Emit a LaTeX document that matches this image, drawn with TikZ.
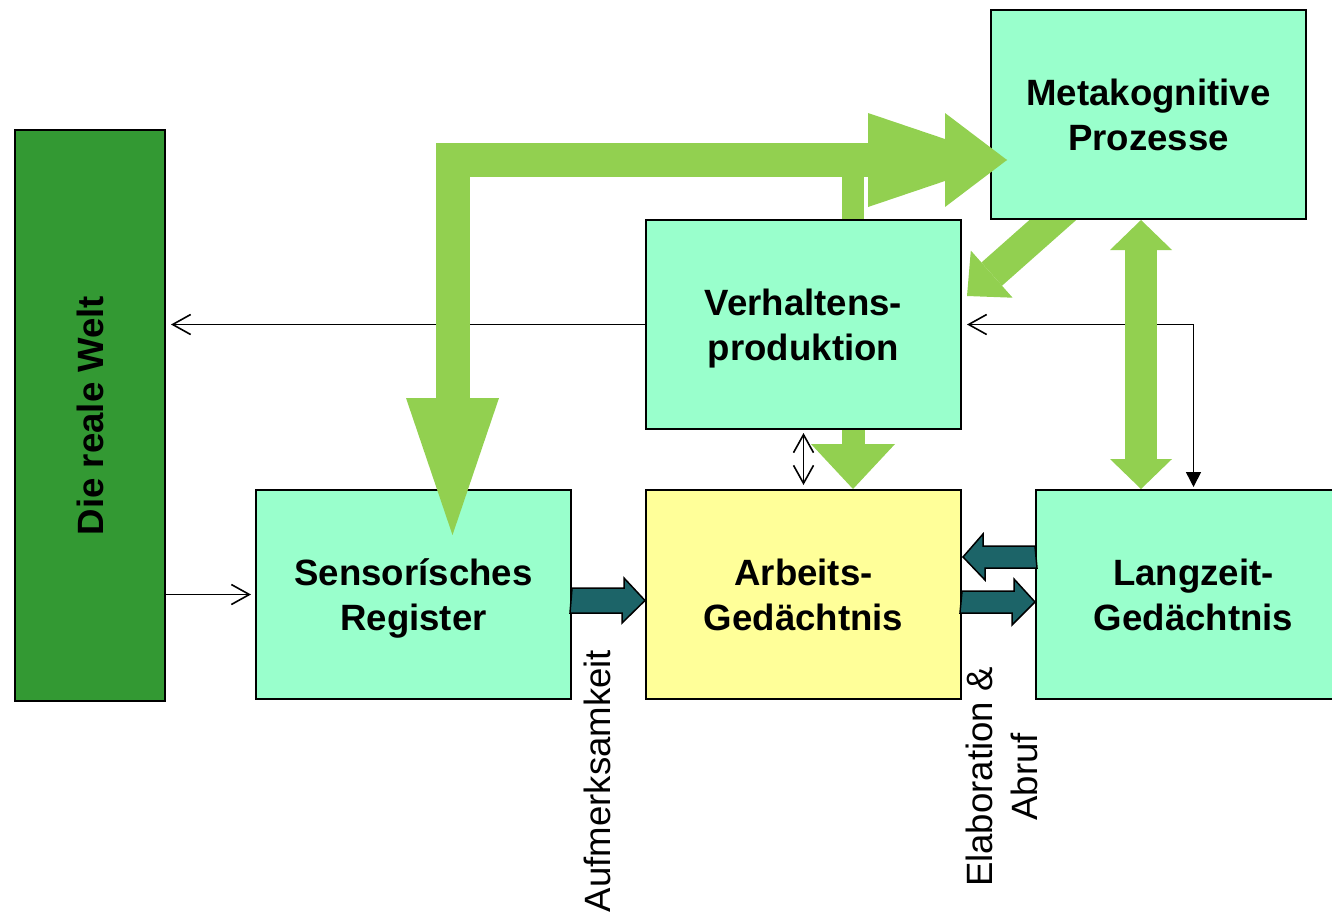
\documentclass[tikz,border=0pt]{standalone}
\usepackage{fontspec}
\setmainfont{Liberation Sans}
\usetikzlibrary{arrows.meta,calc,backgrounds}

\definecolor{mint}{HTML}{99FFCC}
\definecolor{paleyellow}{HTML}{FFFF99}
\definecolor{worldgreen}{HTML}{339933}
\definecolor{limegreen}{HTML}{92D050}
\definecolor{tealdark}{HTML}{1C6468}

\begin{document}
\begin{tikzpicture}[
    x=0.5pt, y=-0.5pt,
    every node/.style={font=\fontsize{18.3}{22.5}\selectfont},
    box/.style={draw=black, line width=1pt, align=center, inner sep=0pt, text depth=0pt, minimum width=157.5pt, minimum height=104.5pt, font=\fontsize{18.3}{22.5}\selectfont\bfseries},
    memory/.style={box, fill=mint},
    work/.style={box, fill=paleyellow},
    world/.style={box, fill=worldgreen, minimum width=75pt, minimum height=285.5pt},
    bigflow/.style={draw=limegreen, line width=17pt},
    thinflow/.style={draw=black, line width=0.8pt},
    barb/.tip={Straight Barb[length=9pt,width=10pt]},
    tealblock/.style={draw=black, fill=tealdark, line width=0.75pt, line join=miter},
    side label/.style={rotate=90, align=center}
  ]
    \useasboundingbox (0,0) rectangle (1332,916);

    \node[world] (welt) at (90,415.5) {\rotatebox{90}{Die reale Welt}};
    \node[memory] (meta) at (1148.5,114.5) {Metakognitive\\Prozesse};
    \node[memory] (verh) at (803.5,324.5) {Verhaltens-\\produktion};
    \node[memory] (sens) at (413.5,594.5) {Sensorísches\\Register};
    \node[work] (arb) at (803.5,594.5) {Arbeits-\\Gedächtnis};
    \node[memory] (lang) at (1193.5,594.5) {Langzeit-\\Gedächtnis};

    \node[side label] (attn) at (597,781) {Aufmerksamkeit};
    \node[side label] (elab) at (1002,777) {Elaboration \&\\Abruf};

    \coordinate (sensin) at (452.5,535);
    \coordinate (metain) at (1007,160);
    \coordinate (junction) at (853,160);

    % thin connectors
    \draw[thinflow, -barb, shorten >=2.5pt] (verh.west) -- (welt.east |- verh.west);
    \draw[thinflow, -barb, shorten >=2pt] (welt.east |- sens.west) -- (sens.west);
    \draw[thinflow, barb-barb, shorten <=1.5pt, shorten >=2pt] (verh.south) -- (arb.north);
    \draw[thinflow, {Triangle[length=7.5pt,width=7.5pt]}-barb, shorten <=1pt, shorten >=2.5pt] (lang.north) |- (verh.east);

    % green block arrows
    \begin{scope}[on background layer]
      \draw[bigflow, line width=15.5pt, -{Triangle[length=16.5pt,width=31.5pt,line width=0pt]}] ($(meta.south west)+(82,-17)$) -- ($(verh.north east)+(5,77)$);
    \end{scope}
    \draw[bigflow, line width=11pt] (junction |- verh.north) -- (junction);
    \draw[bigflow, {Triangle[length=68.5pt,width=46.5pt,line width=0pt]}-{Triangle[length=69.5pt,width=47pt,line width=0pt]}] (sensin) |- (metain);
    \draw[bigflow, -{Triangle[length=31pt,width=47pt,line width=0pt]}] ($(metain)+(-80,0)$) -- (metain);
    \draw[bigflow, line width=16pt, {Triangle[length=15pt,width=31pt,line width=0pt]}-{Triangle[length=15pt,width=31pt,line width=0pt]}] ($(meta.south)+(-7.5,0)$) -- ($(lang.north)+(-52.5,0)$);
    \draw[bigflow, line width=11.5pt, -{Triangle[length=22.5pt,width=42pt,line width=0pt]}] ($(verh.south)+(49.5,0)$) -- ($(arb.north)+(49.5,0)$);

    % teal block arrows
    \draw[tealblock] ($(sens.east)+(0,-6.5)$) -- ++(52,0) -- ++(0,-10) -- ($(arb.west)+(0,6)$) -- ++(-23,22.5) -- ++(0,-10) -- ++(-52,0) -- cycle;
    \draw[tealblock] ($(lang.west)+(0,-48.5)$) -- ++(-52,0) -- ++(0,-12) -- ($(arb.east)+(1,-37.5)$) -- ++(22,23) -- ++(0,-12) -- ++(52,0) -- cycle;
    \draw[tealblock] ($(arb.east)+(0,-3.5)$) -- ++(52,0) -- ++(0,-12) -- ($(lang.west)+(0,7.5)$) -- ++(-23,23) -- ++(0,-12) -- ++(-52,0) -- cycle;
  \end{tikzpicture}
\end{document}
